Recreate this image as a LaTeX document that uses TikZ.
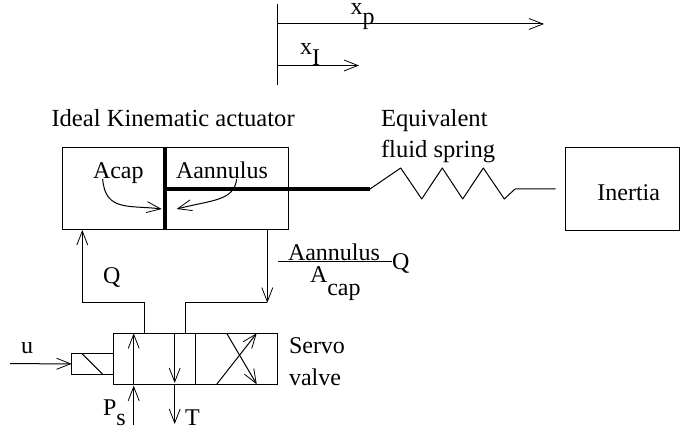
\documentclass[tikz,border=0pt]{standalone}
\usepackage{fontspec}
\setmainfont{Liberation Serif}
\usetikzlibrary{arrows.meta}

\newcommand{\bajo}[2][5.5pt]{\raisebox{-#1}{#2}}

\begin{document}
\begin{tikzpicture}[x=0.5pt, y=-0.5pt, font=\fontsize{12}{14}\selectfont,
    linea/.style={line width=0.5pt},
    flecha/.style={linea, -{Straight Barb[length=7pt, width=5.5pt, line width=0.4pt]}},
    grueso/.style={line width=1.8pt},
    caja/.style={draw, linea, rectangle, anchor=north west, inner sep=0pt, outer sep=0pt},
    texto/.style={anchor=base west, inner sep=0pt, outer sep=0pt},
    titulo/.style={texto, font=\fontsize{12.3}{14}\selectfont}]

    \useasboundingbox (0,0) rectangle (694,432);

    % cotas de posicion
    \coordinate (top) at (277,4);
    \coordinate (bottom) at (277,85);
    \coordinate (xpA) at (277,24);
    \coordinate (xpB) at (544,24);
    \coordinate (xiA) at (277,65.5);
    \coordinate (xiB) at (359,65.5);
    \draw[linea] (top) -- (bottom);
    \draw[flecha] (xpA) -- (xpB);
    \draw[flecha] (xiA) -- (xiB);
    \node[texto] (xpLabel) at (350.7,14.5) {x\bajo[5pt]{p}};
    \node[texto] (xiLabel) at (300,55) {x\bajo{I}};

    % cajas
    \node[caja, minimum width=113pt, minimum height=41pt] (actuator) at (62,148) {};
    \node[caja, minimum width=57pt, minimum height=41.2pt] (inertia) at (565.7,147.7) {};
    \node[caja, minimum width=82.2pt, minimum height=25.5pt] (valve) at (113.3,333.3) {};
    \node[caja, minimum width=20.8pt, minimum height=10.5pt] (solenoid) at (71.7,353.3) {};
    \node (inertiaLabel) at (628.7,193) {Inertia};

    \node[titulo] (title) at (51.5,126.5) {Ideal Kinematic actuator};
    \node[titulo] (equiv) at (381,127) {Equivalent};
    \node[titulo] (fluid) at (381,158) {fluid spring};
    \node[texto] (acap) at (93,179) {Acap};
    \node[texto] (aann) at (176,179) {Aannulus};
    \node[texto] (servo) at (289,353) {Servo};
    \node[texto] (valv) at (289,385) {valve};
    \node[texto] (qLeft) at (103,283) {Q};
    \node[texto] (fracTop) at (288,260) {Aannulus};
    \node[texto] (fracBot) at (310,282) {A\bajo[6.5pt]{cap}};
    \node[texto] (qRight) at (392,270) {Q};
    \node[texto] (uLabel) at (21,353) {u};
    \node[texto] (psLabel) at (103,415) {P\bajo[5pt]{s}};
    \node[texto] (tLabel) at (185,425) {T};

    % piston y vastago
    \coordinate (pistonTop) at (165,148);
    \coordinate (pistonBot) at (165,230);
    \coordinate (rodA) at (165,189);
    \coordinate (rodB) at (370,189);
    \draw[grueso] (pistonTop) -- (pistonBot);
    \draw[grueso] (rodA) -- (rodB);

    % resorte
    \coordinate (springEnd) at (555.7,189);
    \draw[linea, line join=round] (rodB) -- (400.7,168) -- (421.7,199) -- (442.3,168)
        -- (462.7,199) -- (483.3,168) -- (504.3,199) -- (515,189) -- (springEnd);

    % flechas de area
    \coordinate (capA) at (102.7,179);
    \coordinate (capB) at (161.7,209);
    \coordinate (annA) at (236.7,179);
    \coordinate (annB) at (176.7,209);
    \draw[flecha] (capA) .. controls (105,212) and (130,205) .. (capB);
    \draw[flecha] (annA) .. controls (234,201) and (212,200) .. (annB);

    % tuberias
    \coordinate (portA) at (144.3,333.3);
    \coordinate (portB) at (185,333.3);
    \coordinate (capIn) at (82.3,230);
    \coordinate (annOut) at (267.3,230);
    \coordinate (annBend) at (267.3,302.7);
    \draw[flecha] (portA) |- (82.3,302.7) -- (capIn);
    \draw[flecha] (annOut) -- (annBend);
    \draw[linea] (annBend) -| (portB);

    % fraccion
    \coordinate (fracA) at (278,261);
    \coordinate (fracB) at (392,261);
    \draw[linea] (fracA) -- (fracB);

    % valvula
    \coordinate (dividerA) at (195.7,333.3);
    \coordinate (dividerB) at (195.7,384.3);
    \draw[linea] (dividerA) -- (dividerB);
    \draw[flecha] (133.7,384.3) -- (133.7,333.3);
    \draw[flecha] (174.7,333.3) -- (174.7,383);
    \draw[flecha] (133.7,425) -- (133.7,385.7);
    \draw[flecha] (174.7,384.3) -- (174.7,424);
    \draw[flecha] (226.7,333.3) -- (256.7,384.3);
    \draw[flecha] (216.7,384.3) -- (256.7,333.3);
    \draw[linea] (solenoid.north west) ++(10,0) -- (102.7,374.3);
    \coordinate (uStart) at (10,363.7);
    \draw[flecha] (uStart) -- (solenoid.west);

\end{tikzpicture}
\end{document}
